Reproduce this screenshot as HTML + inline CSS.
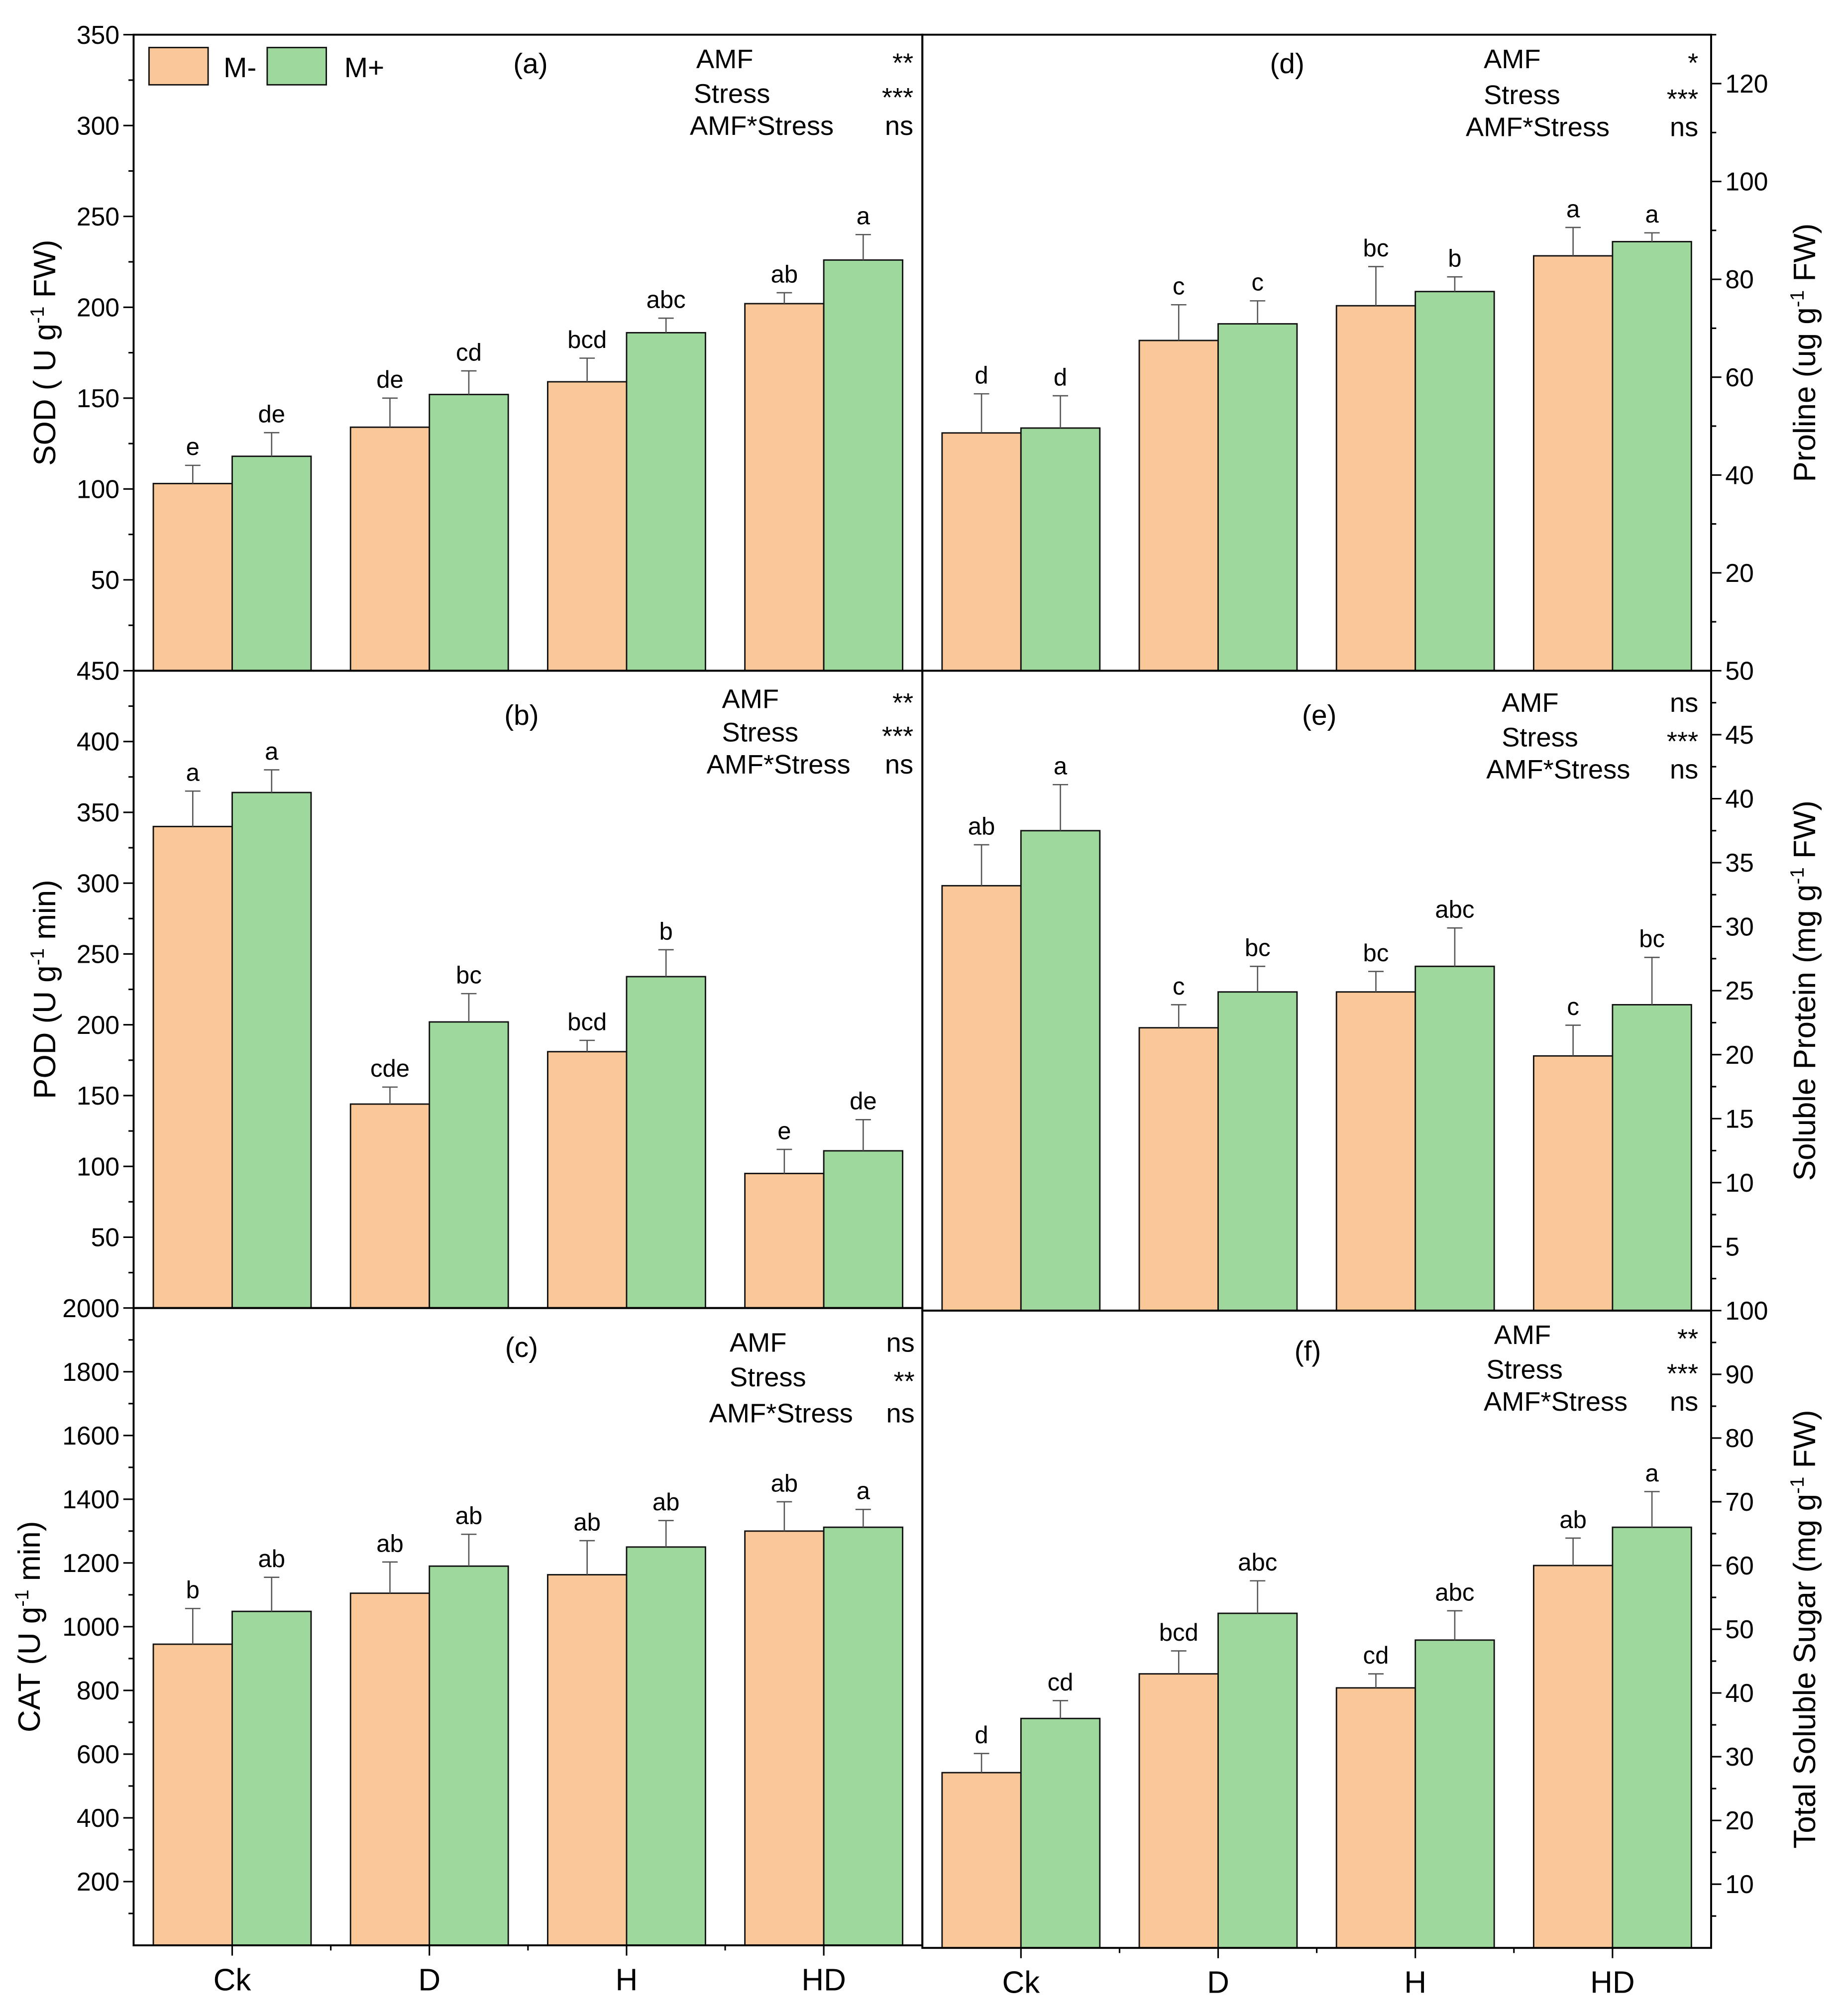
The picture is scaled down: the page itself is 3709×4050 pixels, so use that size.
<!DOCTYPE html>
<html><head><meta charset="utf-8"><style>
html,body{margin:0;padding:0;background:#fff;}
svg{display:block;}
text{font-family:"Liberation Sans",Arial,sans-serif;fill:#000;}
</style></head><body>
<svg id="fig" xmlns="http://www.w3.org/2000/svg" width="3709" height="4050" viewBox="0 0 1437 1569" preserveAspectRatio="none">
<rect x="0" y="0" width="1437" height="1569" fill="#fff"/>
<g id="root"></g>
</svg>
<script>
const categories = ["Ck","D","H","HD"];
// (a) SOD
const sodMinus = [103,134,159,202];
const sodPlus = [118,152,186,226];
const sodErrMinus = [10,16,13,6];
const sodErrPlus = [13,13,8,14];
const sodLetMinus = ["e","de","bcd","ab"];
const sodLetPlus = ["de","cd","abc","a"];
const sodTicks = [50,100,150,200,250,300,350];
// (b) POD
const podMinus = [340,144,181,95];
const podPlus = [364,202,234,111];
const podErrMinus = [25,12,8,17];
const podErrPlus = [16,20,19,22];
const podLetMinus = ["a","cde","bcd","e"];
const podLetPlus = ["a","bc","b","de"];
const podTicks = [50,100,150,200,250,300,350,400,450];
// (c) CAT
const catMinus = [945,1105,1163,1300];
const catPlus = [1048,1190,1250,1312];
const catErrMinus = [112,98,107,92];
const catErrPlus = [107,100,83,56];
const catLetMinus = ["b","ab","ab","ab"];
const catLetPlus = ["ab","ab","ab","a"];
const catTicks = [200,400,600,800,1000,1200,1400,1600,1800,2000];
// (d) Proline
const proMinus = [48.6,67.5,74.6,84.8];
const proPlus = [49.6,70.9,77.5,87.7];
const proErrMinus = [8,7.3,8,5.8];
const proErrPlus = [6.6,4.7,3,1.8];
const proLetMinus = ["d","c","bc","a"];
const proLetPlus = ["d","c","b","a"];
const proTicks = [20,40,60,80,100,120];
// (e) Soluble protein
const protMinus = [33.2,22.1,24.9,19.9];
const protPlus = [37.5,24.9,26.9,23.9];
const protErrMinus = [3.2,1.8,1.6,2.4];
const protErrPlus = [3.6,2,3,3.7];
const protLetMinus = ["ab","c","bc","c"];
const protLetPlus = ["a","bc","abc","bc"];
const protTicks = [5,10,15,20,25,30,35,40,45,50];
// (f) Total soluble sugar
const sugMinus = [27.5,43,40.8,60];
const sugPlus = [36,52.5,48.3,66];
const sugErrMinus = [3,3.6,2.2,4.3];
const sugErrPlus = [2.8,5.1,4.6,5.6];
const sugLetMinus = ["d","bcd","cd","ab"];
const sugLetPlus = ["cd","abc","abc","a"];
const sugTicks = [10,20,30,40,50,60,70,80,90,100];

const NS="http://www.w3.org/2000/svg";
const root=document.getElementById('root');
function mk(tag,attrs,parent,txt){const e=document.createElementNS(NS,tag);for(const k in attrs)e.setAttribute(k,attrs[k]);if(txt!==undefined)e.textContent=txt;(parent||root).appendChild(e);return e;}

function panel(o){
  const g=mk('g',{});
  
  
  const y=v=>o.y1-(v/o.max)*(o.y1-o.y0);
  const gw=(o.x1-o.x0)/4, bw=gw*0.4;
  const xc=i=>o.x0+gw*(i+0.5);
  // bars
  for(let i=0;i<4;i++){
    const sets=[[o.minus,o.errM,o.letM,'#FAC898',-1,'m-minus'],[o.plus,o.errP,o.letP,'#9ED89C',0,'m-plus']];
    sets.forEach(s=>{
      const v=s[0][i], bx=xc(i)+s[4]*bw, top=y(v);
      const r=mk('rect',{x:bx,y:top,width:bw,height:o.y1-top,fill:s[3],stroke:'#111','stroke-width':1.1},g);
      
      
      const cx=bx+bw/2, et=y(v+s[1][i]);
      const e=mk('path',{d:`M${cx},${top}V${et}M${cx-6},${et}H${cx+6}`,stroke:'#555','stroke-width':1,fill:'none'},g);
      
      
      const t=mk('text',{x:cx,y:et-8,'text-anchor':'middle','font-size':19},g,s[2][i]);
      
      
    });
  }
  // frame
  mk('rect',{x:o.x0,y:o.y0,width:o.x1-o.x0,height:o.y1-o.y0,fill:'none',stroke:'#000','stroke-width':1.5},g);
  // ticks
  const ax=o.right?o.x1:o.x0, dir=o.right?1:-1;
  const step=o.ticks[1]-o.ticks[0];
  for(let v=step/2; v<=o.max+0.001; v+=step/2){
    const major=Math.abs(v/step-Math.round(v/step))<0.01;
    mk('line',{x1:ax,x2:ax+dir*(major?8:4),y1:y(v),y2:y(v),stroke:'#000','stroke-width':1.2},g);
  }
  o.ticks.forEach(v=>{
    const t=mk('text',{x:ax+dir*11,y:y(v)+7,'text-anchor':o.right?'start':'end','font-size':20},g,String(v));
    
    
  });
  // y title
  const tx=o.titleX, ty=(o.y0+o.y1)/2;
  const tt=mk('text',{x:tx,y:ty,'text-anchor':'middle','font-size':24,transform:`rotate(-90 ${tx} ${ty})`},g);
  
  
  mk('tspan',{},tt,o.title[0]);
  mk('tspan',{dy:-9,'font-size':15},tt,'-1');
  mk('tspan',{dy:9},tt,o.title[1]);
  // label
  const pl=mk('text',{x:o.lab[0],y:o.lab[1],'text-anchor':'middle','font-size':22},g,o.label);
  
  
  // stats
  const names=['AMF','Stress','AMF*Stress'];
  names.forEach((n,k)=>{
    const a=mk('text',{x:o.st[k][0],y:o.st[k][1],'font-size':21},g,n);
    
    
    const b=mk('text',{x:o.stR,y:o.st[k][1]+(o.sig[k]==='ns'?0:3),'text-anchor':'end','font-size':21},g,o.sig[k]);
    
    
  });
  if(o.xlabels){
    for(let i=0;i<4;i++){
      mk('line',{x1:xc(i),x2:xc(i),y1:o.y1,y2:o.y1+8,stroke:'#000','stroke-width':1.2},g);
      if(i>0) mk('line',{x1:o.x0+gw*i,x2:o.x0+gw*i,y1:o.y1,y2:o.y1+4,stroke:'#000','stroke-width':1.2},g);
      const t=mk('text',{x:xc(i),y:o.y1+35,'text-anchor':'middle','font-size':24},g,categories[i]);
      
      
    }
  }
}
const L0=104,L1=718,R0=718,R1=1332;
panel({name:'panel-a-sod',key:'sod',x0:L0,x1:L1,y0:27,y1:522,max:350,minus:sodMinus,plus:sodPlus,errM:sodErrMinus,errP:sodErrPlus,letM:sodLetMinus,letP:sodLetPlus,ticks:sodTicks,title:['SOD ( U g',' FW)'],titleX:43,label:'(a)',lab:[413,57],st:[[542,53],[540,80],[537,105]],stR:711,sig:['**','***','ns']});
panel({name:'panel-b-pod',key:'pod',x0:L0,x1:L1,y0:522,y1:1018,max:450,minus:podMinus,plus:podPlus,errM:podErrMinus,errP:podErrPlus,letM:podLetMinus,letP:podLetPlus,ticks:podTicks,title:['POD (U g',' min)'],titleX:43,label:'(b)',lab:[406,564],st:[[562,551],[562,577],[550,602]],stR:711,sig:['**','***','ns']});
panel({name:'panel-c-cat',key:'cat',x0:L0,x1:L1,y0:1018,y1:1514,max:2000,minus:catMinus,plus:catPlus,errM:catErrMinus,errP:catErrPlus,letM:catLetMinus,letP:catLetPlus,ticks:catTicks,title:['CAT (U g',' min)'],titleX:31,label:'(c)',lab:[406,1056],st:[[568,1052],[568,1079],[552,1107]],stR:712,sig:['ns','**','ns'],xlabels:true});
panel({name:'panel-d-proline',key:'proline',right:true,x0:R0,x1:R1,y0:27,y1:522,max:130,minus:proMinus,plus:proPlus,errM:proErrMinus,errP:proErrPlus,letM:proLetMinus,letP:proLetPlus,ticks:proTicks,title:['Proline (ug g',' FW)'],titleX:1413,label:'(d)',lab:[1002,57],st:[[1155,53],[1155,81],[1141,106]],stR:1322,sig:['*','***','ns']});
panel({name:'panel-e-protein',key:'protein',right:true,x0:R0,x1:R1,y0:522,y1:1020,max:50,minus:protMinus,plus:protPlus,errM:protErrMinus,errP:protErrPlus,letM:protLetMinus,letP:protLetPlus,ticks:protTicks,title:['Soluble Protein (mg g',' FW)'],titleX:1413,label:'(e)',lab:[1027,564],st:[[1169,554],[1169,581],[1157,606]],stR:1322,sig:['ns','***','ns']});
panel({name:'panel-f-sugar',key:'sugar',right:true,x0:R0,x1:R1,y0:1020,y1:1516,max:100,minus:sugMinus,plus:sugPlus,errM:sugErrMinus,errP:sugErrPlus,letM:sugLetMinus,letP:sugLetPlus,ticks:sugTicks,title:['Total Soluble Sugar (mg g',' FW)'],titleX:1413,label:'(f)',lab:[1018,1059],st:[[1163,1046],[1157,1073],[1155,1098]],stR:1322,sig:['**','***','ns'],xlabels:true});
// legend
const lg=mk('g',{});


mk('rect',{x:116,y:37,width:46,height:29,fill:'#FAC898',stroke:'#111','stroke-width':1.1},lg);
mk('text',{x:174,y:60,'font-size':22},lg,'M-');
mk('rect',{x:208,y:37,width:46,height:29,fill:'#9ED89C',stroke:'#111','stroke-width':1.1},lg);
mk('text',{x:268,y:60,'font-size':22},lg,'M+');
</script>
</body></html>
